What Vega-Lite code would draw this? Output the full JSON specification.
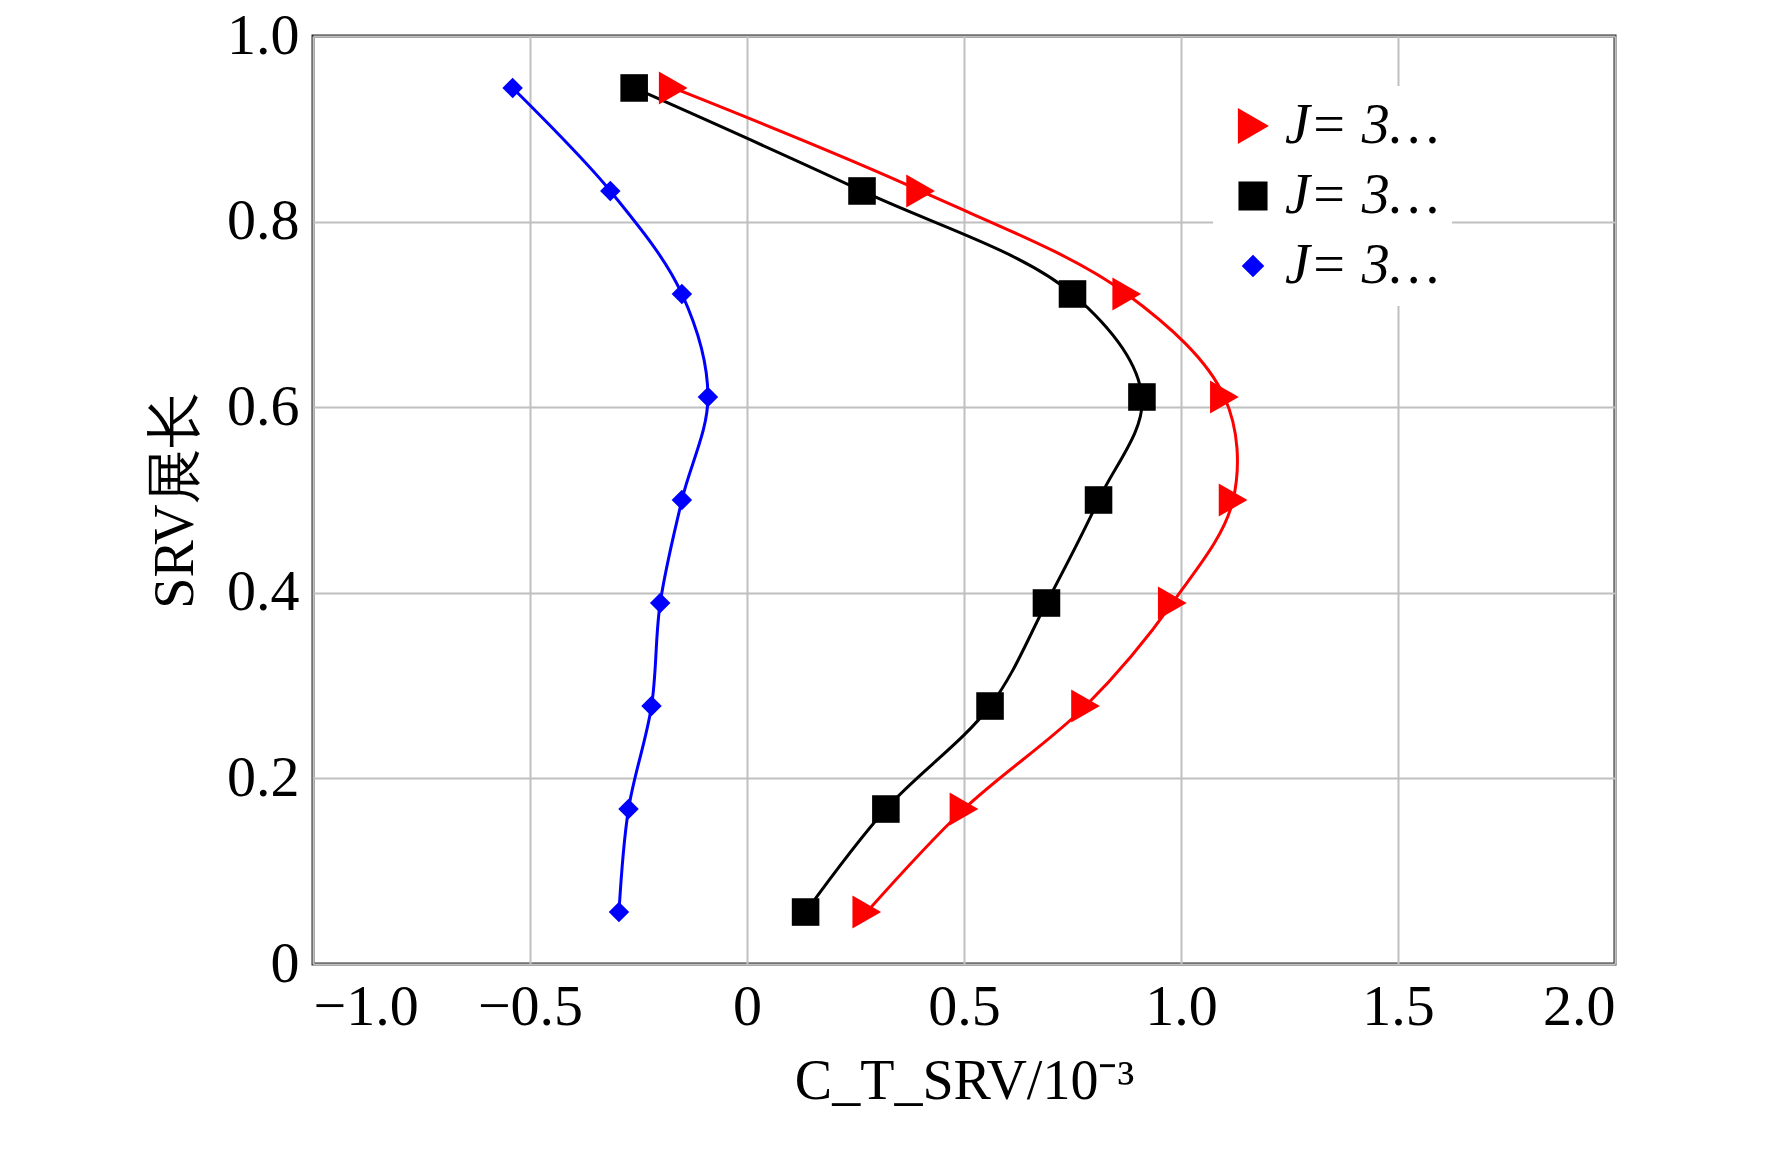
{
"$schema":"https://vega.github.io/schema/vega-lite/v6.json",
"width":1302,"height":928,
"autosize":{"type":"none"},
"padding":{"left":313,"top":36,"right":157,"bottom":188},
"background":"white",
"config":{"font":"Liberation Serif","view":{"stroke":"#262626","strokeWidth":3}},
"data":{"values":[
{"s":"J= 3.10","y":0.056,"x":0.276},{"s":"J= 3.10","y":0.167,"x":0.50},{"s":"J= 3.10","y":0.278,"x":0.78},{"s":"J= 3.10","y":0.389,"x":0.98},{"s":"J= 3.10","y":0.5,"x":1.12},{"s":"J= 3.10","y":0.611,"x":1.10},{"s":"J= 3.10","y":0.722,"x":0.875},{"s":"J= 3.10","y":0.833,"x":0.40},{"s":"J= 3.10","y":0.944,"x":-0.17},
{"s":"J= 3.23","y":0.056,"x":0.135},{"s":"J= 3.23","y":0.167,"x":0.32},{"s":"J= 3.23","y":0.278,"x":0.56},{"s":"J= 3.23","y":0.389,"x":0.69},{"s":"J= 3.23","y":0.5,"x":0.81},{"s":"J= 3.23","y":0.611,"x":0.91},{"s":"J= 3.23","y":0.722,"x":0.75},{"s":"J= 3.23","y":0.833,"x":0.265},{"s":"J= 3.23","y":0.944,"x":-0.26},
{"s":"J= 3.71","y":0.056,"x":-0.295},{"s":"J= 3.71","y":0.167,"x":-0.273},{"s":"J= 3.71","y":0.278,"x":-0.22},{"s":"J= 3.71","y":0.389,"x":-0.20},{"s":"J= 3.71","y":0.5,"x":-0.15},{"s":"J= 3.71","y":0.611,"x":-0.09},{"s":"J= 3.71","y":0.722,"x":-0.15},{"s":"J= 3.71","y":0.833,"x":-0.315},{"s":"J= 3.71","y":0.944,"x":-0.54}
]},
"encoding":{
"x":{"field":"x","type":"quantitative","scale":{"domain":[-1,2],"nice":false,"zero":false},
 "axis":{"values":[-1,-0.5,0,0.5,1,1.5,2],"labelExpr":"datum.value==0?'0':replace(format(datum.value,'.1f'),'-','−')","title":"C_T_SRV/10⁻³","titleFontSize":56,"titleFontWeight":"normal","titlePadding":18,"labelFontSize":58,"labelPadding":14,"labelColor":"black","titleColor":"black","gridColor":"#c0c0c0","gridWidth":2,"domain":false,"tickSize":0}},
"y":{"field":"y","type":"quantitative","scale":{"domain":[0,1],"nice":false},
 "axis":{"values":[0,0.2,0.4,0.6,0.8,1],"labelExpr":"datum.value==0?'0':format(datum.value,'.1f')","title":"SRV展长","titleFontSize":56,"titleFontWeight":"normal","titlePadding":22,"labelFontSize":58,"labelPadding":14,"labelColor":"black","titleColor":"black","gridColor":"#c0c0c0","gridWidth":2,"domain":false,"tickSize":0}},
"color":{"field":"s","type":"nominal","scale":{"domain":["J= 3.10","J= 3.23","J= 3.71"],"range":["#ff0000","#000000","#0000ff"]},
  "legend":{"orient":"none","legendX":900,"legendY":50,"title":null,"labelFontSize":56,"labelFontStyle":"italic","symbolSize":900,"rowPadding":14,"labelColor":"black","fillColor":"white","padding":12,"symbolOpacity":1}},
"order":{"field":"y","type":"quantitative"}
},
"layer":[
{"mark":{"type":"line","interpolate":"catmull-rom","strokeWidth":3}},
{"mark":{"type":"point","filled":true,"opacity":1},
 "encoding":{"shape":{"field":"s","type":"nominal","scale":{"domain":["J= 3.10","J= 3.23","J= 3.71"],"range":["triangle-right","square","diamond"]}},
  "size":{"field":"s","type":"nominal","scale":{"domain":["J= 3.10","J= 3.23","J= 3.71"],"range":[1100,420,950]},"legend":null}}}
]
}
